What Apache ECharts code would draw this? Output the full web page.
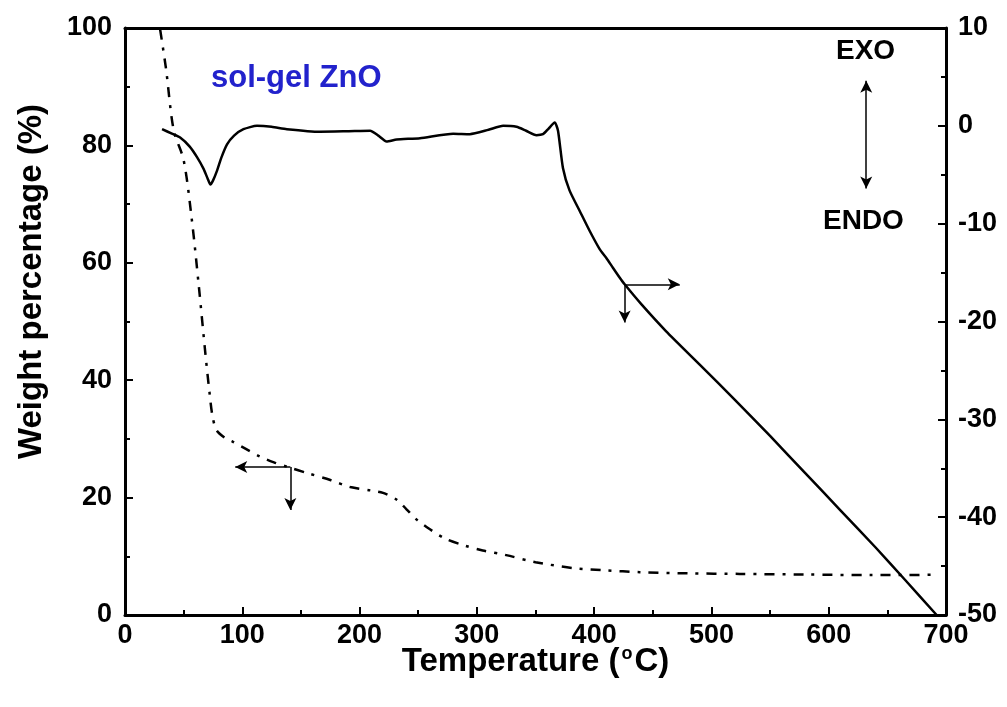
<!DOCTYPE html>
<html>
<head>
<meta charset="utf-8">
<script src="https://cdn.jsdelivr.net/npm/echarts@6/dist/echarts.min.js"></script>
<style>html,body{margin:0;padding:0;background:#fff}#c{width:1007px;height:707px}</style>
</head>
<body>
<div id="c"></div>
<script>
// TGA (weight %, left axis) — dash-dot curve
const tgaTemp = [30, 35, 41.5, 50, 57, 63, 68.5, 72, 74.5, 78, 85, 92, 103, 115, 127, 139, 155, 175, 192, 210, 220, 232, 240, 249, 260, 273, 290, 305, 325, 350, 382, 410, 439, 480, 524, 580, 637, 665, 692];
const tgaWeight = [99.7, 93, 82.6, 77.5, 67.3, 55.9, 44.6, 38, 34, 31.5, 30.2, 29.5, 28.3, 27, 26, 25.2, 24.2, 23, 21.8, 21.2, 20.8, 19.6, 18, 16.2, 14.6, 13, 11.8, 11, 10.2, 9.0, 8.0, 7.6, 7.3, 7.1, 7.0, 6.9, 6.8, 6.8, 6.9];
// DTA (right axis) — solid curve
const dtaTemp = [31.6, 40, 47, 55, 61.4, 67, 70.5, 72.8, 75, 78.4, 82, 87, 93, 101, 112.5, 125, 138, 166, 190, 209, 216, 223, 231.6, 251.5, 279.8, 294, 310, 322.4, 333.8, 342, 350.8, 356.4, 361, 366.4, 369.2, 373.4, 379, 387.7, 396, 404.7, 410.4, 416, 421.7, 426, 440, 461.4, 490, 520, 550, 580, 610, 640, 665, 692];
const dtaValue = [-0.34, -0.8, -1.2, -2.1, -3.2, -4.4, -5.4, -6.0, -5.6, -4.6, -3.3, -1.9, -1.0, -0.34, 0, -0.1, -0.34, -0.6, -0.55, -0.5, -1.0, -1.6, -1.4, -1.26, -0.8, -0.85, -0.4, 0, -0.1, -0.5, -0.95, -0.85, -0.3, 0.34, -0.5, -4.3, -6.6, -8.7, -10.7, -12.6, -13.5, -14.5, -15.5, -16.2, -18.2, -21.0, -24.4, -28.0, -31.7, -35.5, -39.3, -43.1, -46.4, -50];
// axis ticks
const xTicks = [0, 100, 200, 300, 400, 500, 600, 700];
const leftTicks = [0, 20, 40, 60, 80, 100];
const rightTicks = [-50, -40, -30, -20, -10, 0, 10];
// annotation arrows (data coordinates)
const tgaArrowOrigin = [141, 25.2], tgaArrowLeftEnd = [94, 25.2], tgaArrowDownEnd = [141, 17.9];
const dtaArrowOrigin = [426, -16.2], dtaArrowRightEnd = [473, -16.2], dtaArrowDownEnd = [426, -20.1];
const exoEndoArrow = [[632, 4.6], [632, -6.4]];

const tga = tgaTemp.map((t, i) => [t, tgaWeight[i]]);
const dta = dtaTemp.map((t, i) => [t, dtaValue[i]]);

const F = 'Liberation Sans, Arial, sans-serif';
const lab = {color: '#000', fontFamily: F, fontWeight: 'bold', fontSize: 27};
const axLine = {show: true, onZero: false, lineStyle: {color: '#000', width: 3}};
const tick = {show: true, inside: true, length: 8, lineStyle: {color: '#000', width: 2}};
const minor = {show: true, splitNumber: 2, length: 5, lineStyle: {color: '#000', width: 2}};
const arrowLine = {color: '#000', width: 1.5, type: 'solid'};

const chart = echarts.init(document.getElementById('c'), null, {renderer: 'canvas'});
chart.setOption({
  animation: false,
  backgroundColor: '#fff',
  grid: {left: 125, right: 61, top: 28, bottom: 92, containLabel: false},
  xAxis: [{
    type: 'value', min: xTicks[0], max: xTicks[xTicks.length - 1], interval: 100,
    axisLine: axLine, axisTick: tick, minorTick: minor, splitLine: {show: false},
    axisLabel: Object.assign({margin: 7}, lab),
    name: '{a|Temperature (}{s|o}{a|C)}', nameLocation: 'middle', nameGap: 30, nameMoveOverlap: false,
    nameTextStyle: {rich: {
      a: {fontFamily: F, fontWeight: 'bold', fontSize: 33, color: '#000'},
      s: {fontFamily: F, fontWeight: 'bold', fontSize: 18, color: '#000', verticalAlign: 'top', padding: [0, 2, 14, 2]}
    }}
  }, {
    type: 'value', position: 'top', min: 0, max: 700,
    axisLine: axLine, axisTick: {show: false}, axisLabel: {show: false}, splitLine: {show: false}
  }],
  yAxis: [{
    type: 'value', min: leftTicks[0], max: leftTicks[leftTicks.length - 1], interval: 20,
    axisLine: axLine, axisTick: tick, minorTick: minor, splitLine: {show: false},
    axisLabel: Object.assign({margin: 13}, lab),
    name: 'Weight percentage (%)', nameLocation: 'middle', nameGap: 77, nameMoveOverlap: false,
    nameTextStyle: {fontFamily: F, fontWeight: 'bold', fontSize: 33, color: '#000', padding: [0, 0, 0, 80]}
  }, {
    type: 'value', position: 'right', min: rightTicks[0], max: rightTicks[rightTicks.length - 1], interval: 10,
    axisLine: axLine, axisTick: tick, minorTick: minor, splitLine: {show: false},
    axisLabel: Object.assign({margin: 12}, lab)
  }],
  series: [{
    type: 'line', name: 'TGA', xAxisIndex: 0, yAxisIndex: 0, data: tga,
    showSymbol: false, smooth: 0.3,
    lineStyle: {color: '#000', width: 2.5, type: [10, 8, 3, 8]},
    markLine: {
      silent: true, symbol: ['none', 'arrow'], symbolSize: [9, 12], label: {show: false},
      lineStyle: arrowLine,
      data: [
        [{coord: tgaArrowOrigin}, {coord: tgaArrowLeftEnd}],
        [{coord: tgaArrowOrigin}, {coord: tgaArrowDownEnd}]
      ]
    }
  }, {
    type: 'line', name: 'DTA', xAxisIndex: 0, yAxisIndex: 1, data: dta,
    showSymbol: false, smooth: 0.2,
    lineStyle: {color: '#000', width: 2.5},
    markLine: {
      silent: true, symbol: ['none', 'arrow'], symbolSize: [9, 12], label: {show: false},
      lineStyle: arrowLine,
      data: [
        [{coord: dtaArrowOrigin}, {coord: dtaArrowRightEnd}],
        [{coord: dtaArrowOrigin}, {coord: dtaArrowDownEnd}],
        [{coord: exoEndoArrow[0], symbol: 'arrow'}, {coord: exoEndoArrow[1]}]
      ]
    }
  }],
  graphic: [
    {type: 'text', left: 211, top: 63, style: {text: 'sol-gel ZnO', fill: '#2222cc', font: 'bold 31px ' + F}},
    {type: 'text', left: 836, top: 37, style: {text: 'EXO', fill: '#000', font: 'bold 28px ' + F}},
    {type: 'text', left: 823, top: 207, style: {text: 'ENDO', fill: '#000', font: 'bold 28px ' + F}}
  ]
});
</script>
</body>
</html>
